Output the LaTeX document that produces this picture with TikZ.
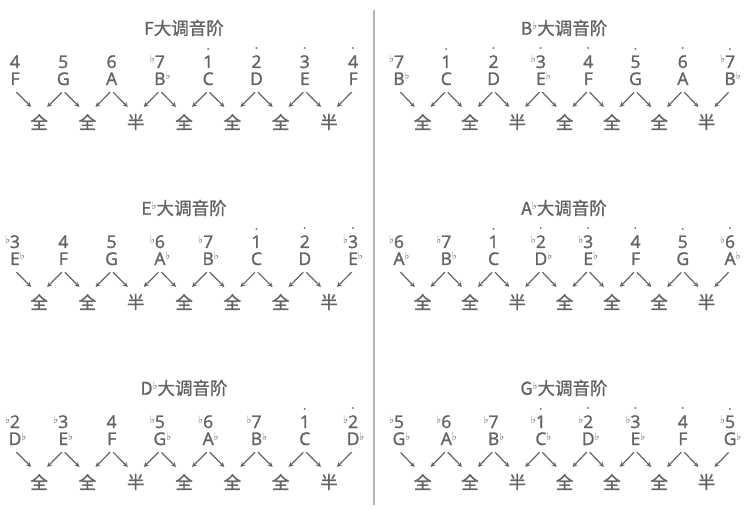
\documentclass[tikz,border=0pt]{standalone}
\usepackage{fontspec}
\usepackage{amsmath}
\setmainfont{Open Sans}[BoldFont={Open Sans},BoldFeatures={FakeBold=1.6}]
\newfontfamily\cjk{Noto Sans CJK SC}[BoldFont={Noto Sans CJK SC},BoldFeatures={FakeBold=1.2}]
\newfontfamily\symf{DejaVu Sans}
\definecolor{txt}{HTML}{646464}
\definecolor{rule}{HTML}{B4B4B4}
\newcommand\fl{\raisebox{5pt}{\symf\mdseries\fontsize{10.5}{10}\selectfont ♭}}
\newcommand\flatl{\llap{\fl}}
\newcommand\flatr{\rlap{\fl}}
\newcommand\hi[1]{\ensuremath{\overset{\boldsymbol{\cdot}}{\mbox{#1}}}}
\begin{document}
\begin{tikzpicture}[x=1pt,y=1pt,>=stealth,
    every node/.style={text=txt,inner sep=0pt},
    deg/.style={anchor=base,font=\fontsize{17.5}{20}\selectfont\bfseries},
    note/.style={anchor=base,font=\fontsize{17.5}{20}\selectfont\bfseries},
    ttl/.style={font=\cjk\fontsize{17.5}{20}\selectfont\bfseries},
    word/.style={font=\cjk\fontsize{17.5}{20}\selectfont\bfseries},
    arr/.style={->,draw=txt,line width=1.2pt}]
    \useasboundingbox (0,0) rectangle (751,-510);

    \draw[rule,line width=1.5pt] (374,-10) -- (374,-505);

    % F
    \node[ttl] (F-t) at (184,-28) {F大调音阶};
    \foreach \dg/\lt [count=\i] in {4/F, 5/G, 6/A, \flatl7/B\flatr, \hi{1}/C, \hi{2}/D, \hi{3}/E, \hi{4}/F} {
        \node[deg] (F-d\i) at ({15+48.3*(\i-1)},-68) {\dg};
        \node[note] (F-n\i) at ({15+48.3*(\i-1)},-85) {\lt};
    }
    \foreach \w [count=\i] in {全,全,半,全,全,全,半} {
        \pgfmathtruncatemacro\j{\i+1}
        \node[word] (F-w\i) at ({39.15+48.3*(\i-1)},-122) {\w};
        \draw[arr] ([xshift=1.5,yshift=-7]F-n\i.south) -- ([xshift=-8,yshift=15]F-w\i.center);
        \draw[arr] ([xshift=-1.5,yshift=-7]F-n\j.south) -- ([xshift=8,yshift=15]F-w\i.center);
    }

    % Bb
    \node[ttl] (Bb-t) at (564,-28) {B\fl 大调音阶};
    \foreach \dg/\lt [count=\i] in {\flatl7/B\flatr, \hi{1}/C, \hi{2}/D, \flatl\hi{3}/E\flatr, \hi{4}/F, \hi{5}/G, \hi{6}/A, \flatl\hi{7}/B\flatr} {
        \node[deg] (Bb-d\i) at ({399+47.3*(\i-1)},-68) {\dg};
        \node[note] (Bb-n\i) at ({399+47.3*(\i-1)},-85) {\lt};
    }
    \foreach \w [count=\i] in {全,全,半,全,全,全,半} {
        \pgfmathtruncatemacro\j{\i+1}
        \node[word] (Bb-w\i) at ({422.65+47.3*(\i-1)},-122) {\w};
        \draw[arr] ([xshift=1.5,yshift=-7]Bb-n\i.south) -- ([xshift=-8,yshift=15]Bb-w\i.center);
        \draw[arr] ([xshift=-1.5,yshift=-7]Bb-n\j.south) -- ([xshift=8,yshift=15]Bb-w\i.center);
    }

    % Eb
    \node[ttl] (Eb-t) at (184,-208) {E\fl 大调音阶};
    \foreach \dg/\lt [count=\i] in {\flatl3/E\flatr, 4/F, 5/G, \flatl6/A\flatr, \flatl7/B\flatr, \hi{1}/C, \hi{2}/D, \flatl\hi{3}/E\flatr} {
        \node[deg] (Eb-d\i) at ({15+48.3*(\i-1)},-248) {\dg};
        \node[note] (Eb-n\i) at ({15+48.3*(\i-1)},-265) {\lt};
    }
    \foreach \w [count=\i] in {全,全,半,全,全,全,半} {
        \pgfmathtruncatemacro\j{\i+1}
        \node[word] (Eb-w\i) at ({39.15+48.3*(\i-1)},-302) {\w};
        \draw[arr] ([xshift=1.5,yshift=-7]Eb-n\i.south) -- ([xshift=-8,yshift=15]Eb-w\i.center);
        \draw[arr] ([xshift=-1.5,yshift=-7]Eb-n\j.south) -- ([xshift=8,yshift=15]Eb-w\i.center);
    }

    % Ab
    \node[ttl] (Ab-t) at (564,-208) {A\fl 大调音阶};
    \foreach \dg/\lt [count=\i] in {\flatl6/A\flatr, \flatl7/B\flatr, \hi{1}/C, \flatl\hi{2}/D\flatr, \flatl\hi{3}/E\flatr, \hi{4}/F, \hi{5}/G, \flatl\hi{6}/A\flatr} {
        \node[deg] (Ab-d\i) at ({399+47.3*(\i-1)},-248) {\dg};
        \node[note] (Ab-n\i) at ({399+47.3*(\i-1)},-265) {\lt};
    }
    \foreach \w [count=\i] in {全,全,半,全,全,全,半} {
        \pgfmathtruncatemacro\j{\i+1}
        \node[word] (Ab-w\i) at ({422.65+47.3*(\i-1)},-302) {\w};
        \draw[arr] ([xshift=1.5,yshift=-7]Ab-n\i.south) -- ([xshift=-8,yshift=15]Ab-w\i.center);
        \draw[arr] ([xshift=-1.5,yshift=-7]Ab-n\j.south) -- ([xshift=8,yshift=15]Ab-w\i.center);
    }

    % Db
    \node[ttl] (Db-t) at (184,-388) {D\fl 大调音阶};
    \foreach \dg/\lt [count=\i] in {\flatl2/D\flatr, \flatl3/E\flatr, 4/F, \flatl5/G\flatr, \flatl6/A\flatr, \flatl7/B\flatr, \hi{1}/C, \flatl\hi{2}/D\flatr} {
        \node[deg] (Db-d\i) at ({15+48.3*(\i-1)},-428) {\dg};
        \node[note] (Db-n\i) at ({15+48.3*(\i-1)},-445) {\lt};
    }
    \foreach \w [count=\i] in {全,全,半,全,全,全,半} {
        \pgfmathtruncatemacro\j{\i+1}
        \node[word] (Db-w\i) at ({39.15+48.3*(\i-1)},-482) {\w};
        \draw[arr] ([xshift=1.5,yshift=-7]Db-n\i.south) -- ([xshift=-8,yshift=15]Db-w\i.center);
        \draw[arr] ([xshift=-1.5,yshift=-7]Db-n\j.south) -- ([xshift=8,yshift=15]Db-w\i.center);
    }

    % Gb
    \node[ttl] (Gb-t) at (564,-388) {G\fl 大调音阶};
    \foreach \dg/\lt [count=\i] in {\flatl5/G\flatr, \flatl6/A\flatr, \flatl7/B\flatr, \flatl\hi{1}/C\flatr, \flatl\hi{2}/D\flatr, \flatl\hi{3}/E\flatr, \hi{4}/F, \flatl\hi{5}/G\flatr} {
        \node[deg] (Gb-d\i) at ({399+47.3*(\i-1)},-428) {\dg};
        \node[note] (Gb-n\i) at ({399+47.3*(\i-1)},-445) {\lt};
    }
    \foreach \w [count=\i] in {全,全,半,全,全,全,半} {
        \pgfmathtruncatemacro\j{\i+1}
        \node[word] (Gb-w\i) at ({422.65+47.3*(\i-1)},-482) {\w};
        \draw[arr] ([xshift=1.5,yshift=-7]Gb-n\i.south) -- ([xshift=-8,yshift=15]Gb-w\i.center);
        \draw[arr] ([xshift=-1.5,yshift=-7]Gb-n\j.south) -- ([xshift=8,yshift=15]Gb-w\i.center);
    }
\end{tikzpicture}
\end{document}
